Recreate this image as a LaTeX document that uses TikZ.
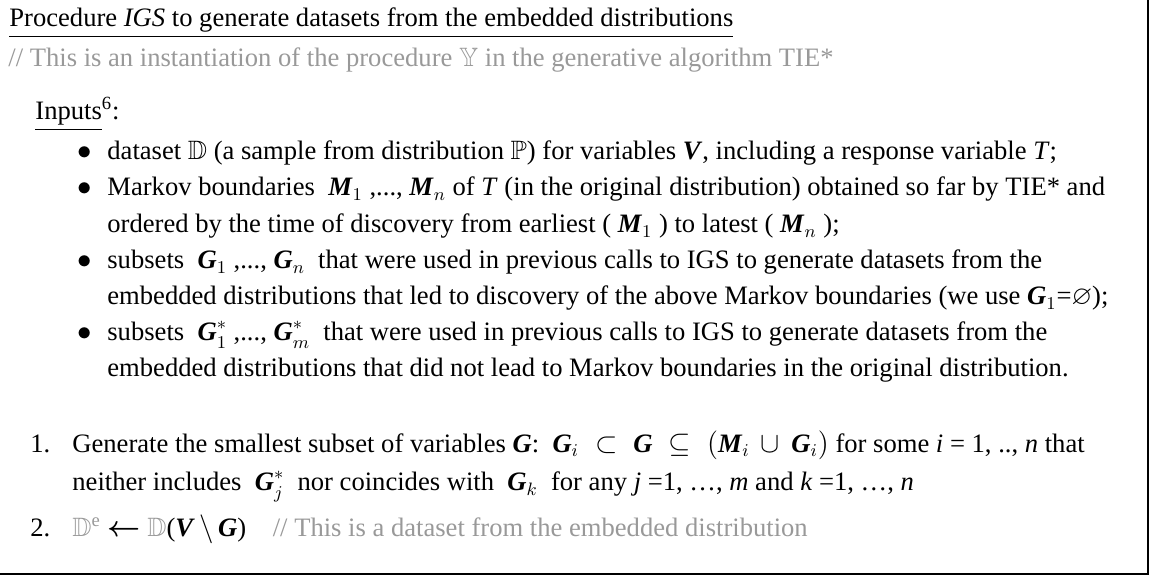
\documentclass[tikz,border=0pt,12pt]{standalone}
\usepackage{amsmath}
\usepackage{amssymb}
\usepackage{fontspec}
\setmainfont{Liberation Serif}
\usepackage{tikz}
\usepackage{xcolor}

\definecolor{cmtgray}{gray}{0.6}
\newcommand{\bvar}[1]{\mbox{\textbf{\textit{#1}}}}

\begin{document}
\begin{tikzpicture}[x=0.5pt,y=-0.5pt,
    txt/.style={anchor=base west,inner sep=0pt,font=\fontsize{13.3}{16}\selectfont},
    cmt/.style={txt,text=cmtgray}]
    \useasboundingbox (0,0) rectangle (1150,576);
    \draw[line width=0.75pt] (0,574)--(1148,574)--(1148,0);

    \node[txt] (title) at (9,27) {\underline{Procedure \textit{IGS} to generate datasets from the embedded distributions}};
    \node[cmt] (note) at (8,67) {// This is an instantiation of the procedure $\mathbb{Y}$ in the generative algorithm TIE*};

    \node[txt] (inputs) at (35,120) {\underline{Inputs}\textsuperscript{6}:};
    \node[txt] (b1) at (77,160) {$\bullet$};
    \node[txt] (in1) at (107,160) {dataset $\mathbb{D}$ (a sample from distribution $\mathbb{P}$) for variables \bvar{V}, including a response variable \textit{T};};
    \node[txt] (b2) at (77,196) {$\bullet$};
    \node[txt] (in2) at (107,196) {Markov boundaries\ \ $\bvar{M}_1$ ,..., $\bvar{M}_{n}$ of \textit{T} (in the original distribution) obtained so far by TIE* and};
    \node[txt] (in2b) at (107,233) {ordered by the time of discovery from earliest ( $\bvar{M}_1$ ) to latest ( $\bvar{M}_{n}$ );};
    \node[txt] (b3) at (77,269) {$\bullet$};
    \node[txt] (in3) at (107,269) {subsets\ \ $\bvar{G}_1$ ,..., $\bvar{G}_{n}$\ \ that were used in previous calls to IGS to generate datasets from the};
    \node[txt] (in3b) at (107,305) {embedded distributions that led to discovery of the above Markov boundaries (we use $\bvar{G}_1$=$\varnothing$);};
    \node[txt] (b4) at (77,341) {$\bullet$};
    \node[txt] (in4) at (107,341) {subsets\ \ $\bvar{G}^{*}_1$ ,..., $\bvar{G}^{*}_{m}$\ \ that were used in previous calls to IGS to generate datasets from the};
    \node[txt] (in4b) at (107,377) {embedded distributions that did not lead to Markov boundaries in the original distribution.};

    \node[txt] (n1) at (30,452) {1.};
    \node[txt] (s1) at (72,452) {Generate the smallest subset of variables \bvar{G}:\ \ $\bvar{G}_{i} \;\subset\; \bvar{G} \;\subseteq\; (\bvar{M}_{i} \,\cup\, \bvar{G}_{i})$ for some \textit{i} = 1, .., \textit{n} that};
    \node[txt] (s1b) at (72,491) {neither includes\ \ $\bvar{G}^{*}_{j}$\ \ nor coincides with\ \ $\bvar{G}_{k}$\ \ for any \textit{j} =1, \dots, \textit{m} and \textit{k} =1, \dots, \textit{n}};
    \node[txt] (n2) at (30,537) {2.};
    \node[txt] (s2) at (72,537) {{\color{cmtgray}$\mathbb{D}^{\mathrm{e}}$} $\boldsymbol{\leftarrow}$ {\color{cmtgray}$\mathbb{D}$}(\bvar{V}\,$\backslash$\,\bvar{G})\ \ \ \ {\color{cmtgray}// This is a dataset from the embedded distribution}};
\end{tikzpicture}
\end{document}
